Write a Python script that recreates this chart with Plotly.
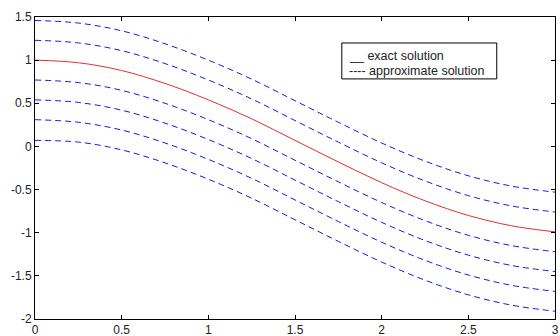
import plotly.graph_objects as go

x = [0, 0.25, 0.5, 0.75, 1, 1.25, 1.5, 1.75, 2, 2.25, 2.5, 2.75, 3]
exact = [1.00, 0.97, 0.88, 0.73, 0.54, 0.32, 0.07, -0.18, -0.42, -0.63, -0.80, -0.92, -0.99]
approx_1 = [1.46, 1.43, 1.34, 1.19, 1.00, 0.78, 0.53, 0.28, 0.04, -0.17, -0.34, -0.46, -0.53]
approx_2 = [1.23, 1.20, 1.11, 0.96, 0.77, 0.55, 0.30, 0.05, -0.19, -0.40, -0.57, -0.69, -0.76]
approx_3 = [0.77, 0.74, 0.65, 0.50, 0.31, 0.09, -0.16, -0.41, -0.65, -0.86, -1.03, -1.15, -1.22]
approx_4 = [0.54, 0.51, 0.42, 0.27, 0.08, -0.14, -0.39, -0.64, -0.88, -1.09, -1.26, -1.38, -1.45]
approx_5 = [0.31, 0.28, 0.19, 0.04, -0.15, -0.37, -0.62, -0.87, -1.11, -1.32, -1.49, -1.61, -1.68]
approx_6 = [0.07, 0.05, -0.04, -0.19, -0.38, -0.60, -0.85, -1.10, -1.34, -1.55, -1.72, -1.84, -1.91]
approx = [approx_1, approx_2, approx_3, approx_4, approx_5, approx_6]

x_ticks = [0, 0.5, 1, 1.5, 2, 2.5, 3]
x_labels = ["0", "0.5", "1", "1.5", "2", "2.5", "3"]
y_ticks = [-2, -1.5, -1, -0.5, 0, 0.5, 1, 1.5]
y_labels = ["-2", "-1.5", "-1", "-0.5", "0", "0.5", "1", "1.5"]
legend_lines = ["__ exact solution", "---- approximate solution"]

fig = go.Figure()
for ys in approx:
    fig.add_trace(go.Scatter(x=x, y=ys, mode="lines", line=dict(color="#1a1adf", width=1, dash="6px,4px", shape="spline"), showlegend=False))
fig.add_trace(go.Scatter(x=x, y=exact, mode="lines", line=dict(color="#e03030", width=1, shape="spline"), showlegend=False))

axis_common = dict(showline=True, linecolor="black", linewidth=1, mirror="ticks", ticks="inside", ticklen=4,
                   tickcolor="black", showgrid=False, zeroline=False, automargin=False,
                   tickfont=dict(family="Liberation Sans, Arial", size=12, color="#222"))
fig.update_xaxes(range=[0, 3], tickvals=x_ticks, ticktext=x_labels, **axis_common)
fig.update_yaxes(range=[-2, 1.5], tickvals=y_ticks, ticktext=y_labels, **axis_common)

fig.add_shape(type="rect", xref="paper", yref="paper", x0=0.590, x1=0.888, y0=0.795, y1=0.914,
              line=dict(color="black", width=1), fillcolor="white", layer="above")
for txt, yy in zip(legend_lines, [0.871, 0.821]):
    fig.add_annotation(xref="paper", yref="paper", x=0.600, y=yy, text=txt, showarrow=False,
                       xanchor="left", yanchor="middle",
                       font=dict(family="Liberation Sans, Arial", size=12.5, color="#222"))

fig.update_layout(width=560, height=336, margin=dict(l=35, r=5, t=17, b=17),
                  plot_bgcolor="white", paper_bgcolor="white")
fig.write_html("out.html", config={"displayModeBar": False},
               post_script="document.body.style.margin='0px';document.body.style.overflow='hidden';")
